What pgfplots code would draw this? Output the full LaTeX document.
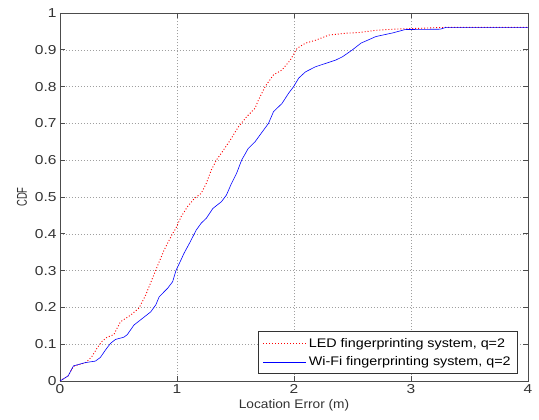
\documentclass[border=0pt]{standalone}
\usepackage{fontspec}
\setmainfont{Liberation Sans}
\usepackage{pgfplots}
\pgfplotsset{compat=1.18}
\newcommand{\tfont}{\fontsize{12.5}{14}\selectfont}
\newcommand{\kfont}{\fontsize{13}{15}\selectfont}
\begin{document}
\begin{tikzpicture}
\begin{axis}[
  scale only axis,
  width=468bp, height=368bp,
  xmin=0, xmax=4, ymin=0, ymax=1,
  xtick={0,1,2,3,4},
  ytick={0,0.1,0.2,0.3,0.4,0.5,0.6,0.7,0.8,0.9,1},
  /pgf/number format/assume math mode=true,
  xticklabel={\scalebox{1.2}[1]{\pgfmathprintnumber{\tick}}},
  yticklabel={\scalebox{1.2}[1]{\pgfmathprintnumber[fixed]{\tick}}},
  tick label style={font=\kfont, text=black!80},
  xlabel={\scalebox{1.1}[1]{Location Error (m)}},
  ylabel={\scalebox{1}[1.5]{CDF}},
  xlabel style={font=\tfont, text=black!80, yshift=1bp},
  ylabel style={font=\fontsize{9.5}{11}\selectfont, text=black!80, yshift=1bp},
  grid=major,
  major grid style={gray!75, dash pattern=on 1pt off 2pt, line width=0.5pt},
  axis line style={black!70, line width=0.8pt},
  major tick style={black!70, line width=0.6pt},
  tick align=inside,
  major tick length=5bp,
  legend style={font=\tfont, draw=black!80, line width=0.7pt,
    at={(0.9786,0.019)}, anchor=south east, inner xsep=5bp, inner ysep=4.5bp,
    row sep=4bp, nodes={inner sep=2bp}},
  legend cell align=left,
  legend image code/.code={\draw[#1] (0bp,0bp) -- (43bp,0bp);},
]
\addplot[red, line width=0.9pt, dash pattern=on 1pt off 2pt] coordinates {
(0,0) (0.07,0.014) (0.115,0.04) (0.22,0.05) (0.27,0.065) (0.316,0.089) (0.36,0.108)
(0.402,0.119) (0.46,0.126) (0.517,0.161) (0.603,0.179) (0.675,0.198) (0.733,0.234)
(0.79,0.279) (0.848,0.324) (0.89,0.356) (0.963,0.401) (0.991,0.415) (1.034,0.446)
(1.09,0.474) (1.149,0.496) (1.207,0.51) (1.25,0.537) (1.293,0.573) (1.336,0.60)
(1.379,0.619) (1.437,0.646) (1.466,0.66) (1.523,0.69) (1.595,0.718) (1.667,0.741)
(1.695,0.763) (1.753,0.80) (1.825,0.832) (1.897,0.845) (1.968,0.872) (2.026,0.904)
(2.098,0.918) (2.184,0.926) (2.299,0.94) (2.443,0.945) (2.557,0.947) (2.7,0.953)
(2.85,0.956) (3.3,0.961) (4,0.961)
};
\addlegendentry{\scalebox{1.15}[1]{LED fingerprinting system, q=2}}
\addplot[blue, line width=0.6pt] coordinates {
(0,0) (0.07,0.014) (0.115,0.041) (0.216,0.050) (0.302,0.054) (0.345,0.064)
(0.388,0.084) (0.431,0.102) (0.474,0.113) (0.546,0.119) (0.575,0.126) (0.632,0.152)
(0.704,0.170) (0.776,0.188) (0.819,0.207) (0.848,0.229) (0.920,0.252) (0.963,0.270)
(0.991,0.30) (1.034,0.329) (1.06,0.347) (1.106,0.374) (1.164,0.41) (1.207,0.429)
(1.25,0.442) (1.307,0.469) (1.379,0.487) (1.422,0.505) (1.466,0.537) (1.509,0.564)
(1.552,0.60) (1.609,0.632) (1.667,0.65) (1.724,0.675) (1.782,0.70) (1.825,0.732)
(1.897,0.754) (1.954,0.782) (1.997,0.80) (2.04,0.823) (2.098,0.84) (2.184,0.854)
(2.27,0.863) (2.356,0.872) (2.414,0.881) (2.5,0.90) (2.572,0.918) (2.7,0.936)
(2.845,0.946) (2.95,0.955) (3.25,0.956) (3.3,0.961) (4,0.961)
};
\addlegendentry{\scalebox{1.15}[1]{Wi-Fi fingerprinting system, q=2}}
\end{axis}
\pgfresetboundingbox
\path[use as bounding box] ([shift={(-60bp,-39bp)}]current axis.south west) rectangle ([shift={(11bp,13bp)}]current axis.north east);
\end{tikzpicture}
\end{document}
